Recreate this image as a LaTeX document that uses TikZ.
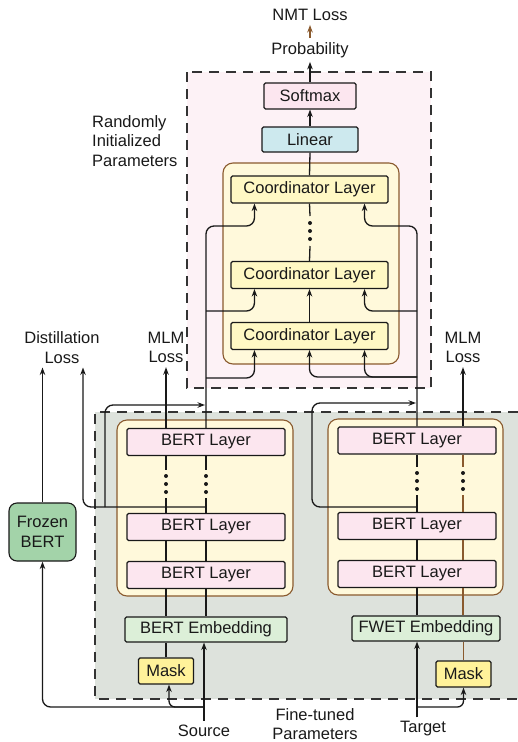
\documentclass[tikz,border=0pt]{standalone}
\usepackage{fontspec}
\setmainfont{Liberation Sans}
\usetikzlibrary{arrows.meta}
\usetikzlibrary{calc}

\begin{document}
\begin{tikzpicture}[x=1pt,y=-1pt,font=\fontsize{16.5}{19.5}\selectfont]
        \tikzset{>={Stealth[length=7.5pt,width=5.5pt]}}
        \tikzset{link/.style={line width=1.3pt,draw=black!90},
                 arr/.style={link,->},
                 brownline/.style={draw=fwetbrown},
                 regionline/.style={line width=1.3pt,draw=black!80,dash pattern=on 10pt off 7pt},
                 stackbox/.style={fill=stackcream,draw=fwetbrown,line width=1.1pt,rounded corners=10pt},
                 box/.style={draw=black!90,line width=1.1pt,rounded corners=1.5pt,inner sep=0pt,minimum height=27pt,text=black!90},
                 bertbox/.style={box,fill=bertpink,minimum width=158pt},
                 crdbox/.style={box,fill=crdyellow,minimum width=157pt},
                 embbox/.style={box,fill=embgreen,minimum height=25pt},
                 maskbox/.style={box,fill=maskyellow,minimum width=55pt,minimum height=26pt},
                 lbl/.style={align=center,inner sep=4pt,text=black!90}}

        \definecolor{pinkbg}{HTML}{FDF2F6}
        \definecolor{greybg}{HTML}{DDE2DC}
        \definecolor{stackcream}{HTML}{FFF9DB}
        \definecolor{crdyellow}{HTML}{FFF8C4}
        \definecolor{bertpink}{HTML}{FCE6EF}
        \definecolor{linblue}{HTML}{CDE9EE}
        \definecolor{embgreen}{HTML}{DCEFD8}
        \definecolor{maskyellow}{HTML}{FFF29A}
        \definecolor{frozengreen}{HTML}{A3D3A9}
        \definecolor{fwetbrown}{HTML}{8A5A2E}

        \useasboundingbox (0,0) rectangle (518,742);

        % parameter regions
        \fill[pinkbg] (187,72) rectangle (431,388);
        \draw[regionline] (187,72) rectangle (431,388);
        \fill[greybg] (95,412) rectangle (518,699);
        \draw[regionline] (518,412) -- (95,412) -- (95,699) -- (518,699);

        \draw[stackbox] (223,163) rectangle (399,364);
        \draw[stackbox] (117,420) rectangle (293,596);
        \draw[stackbox] (328,419) rectangle (503,595);

        % coordinator side
        \node[box,fill=bertpink,minimum width=92pt,minimum height=26pt] (softmax) at (310,96) {Softmax};
        \node[box,fill=linblue,minimum width=96pt,minimum height=25pt] (linear) at (310,139.5) {Linear};
        \node[crdbox] (crd3) at (309.5,189.5) {Coordinator Layer};
        \node[crdbox] (crd2) at (309.5,275) {Coordinator Layer};
        \node[crdbox] (crd1) at (309.5,336) {Coordinator Layer};

        % encoders
        \node[bertbox] (bertL3) at (206,442) {BERT Layer};
        \node[bertbox] (bertL2) at (206,527) {BERT Layer};
        \node[bertbox] (bertL1) at (206,575) {BERT Layer};
        \node[bertbox] (bertR3) at (417,440.5) {BERT Layer};
        \node[bertbox] (bertR2) at (417,526) {BERT Layer};
        \node[bertbox] (bertR1) at (417,574) {BERT Layer};
        \node[embbox,minimum width=162pt] (embL) at (206,629.5) {BERT Embedding};
        \node[embbox,minimum width=148pt] (embR) at (426,628.5) {FWET Embedding};
        \node[maskbox] (maskL) at (166,671) {Mask};
        \node[maskbox] (maskR) at (463.5,674) {Mask};
        \node[box,fill=frozengreen,minimum width=67pt,minimum height=58pt,rounded corners=8pt,align=center] (frozen) at (42.5,532) {Frozen\\BERT};

        % labels
        \node[lbl] (nmt) at (310,15) {NMT Loss};
        \node[lbl] (prob) at (310,50) {Probability};
        \node[lbl] (distill) at (62,347.5) {Distillation\\Loss};
        \node[lbl] (mlmL) at (166,347.5) {MLM\\Loss};
        \node[lbl] (mlmR) at (463,347.5) {MLM\\Loss};
        \node[lbl,anchor=west,align=left] (randinit) at (88,141) {Randomly\\Initialized\\Parameters};
        \node[lbl] (source) at (204,731) {Source};
        \node[lbl] (finetuned) at (315,724) {Fine-tuned\\Parameters};
        \node[lbl] (target) at (423,729) {Target};

        \coordinate (ltop) at (206,226);
        \coordinate (lj2) at (206,311);
        \coordinate (lj1) at (206,378);
        \coordinate (rtop) at (417,226);
        \coordinate (rj2) at (417,311);
        \coordinate (rj1) at (417,377);
        \coordinate (lout) at (206,507);
        \coordinate (lbr) at (105,507);
        \coordinate (lmerge) at (205,405);
        \coordinate (rout) at (417,507);
        \coordinate (rbr) at (312,403);
        \coordinate (rmerge) at (416,403);
        \coordinate (srcj) at (204,707);
        \coordinate (tgtj) at (417,707);
        \coordinate (cdots) at (310,231);
        \coordinate (ldotsA) at (166,484);
        \coordinate (ldotsB) at (206,484);
        \coordinate (rdotsA) at (417,481);
        \coordinate (rdotsB) at (463,481);

        % top
        \draw[arr] (softmax.north) -- (prob.south);
        \draw[arr,brownline] (prob.north) -- (nmt.south);
        \draw[arr] (linear.north) -- (softmax.south);
        \draw[link] (crd3.north) -- (linear.south);
        \draw[arr] (crd1.north) -- (crd2.south);
        \draw[link] (crd2.north) -- ($(cdots)+(0,15)$);
        \draw[link] ($(cdots)+(0,-15)$) -- (crd3.south);

        % encoder outputs into the coordinator
        \draw[arr,rounded corners=8pt] (bertL3.north) -- (ltop) -| ([xshift=24pt]crd3.south west);
        \draw[arr,rounded corners=8pt] (lj2) -| ([xshift=24pt]crd2.south west);
        \draw[arr,rounded corners=8pt] (lj1) -| ([xshift=24pt]crd1.south west);
        \draw[arr,rounded corners=8pt] (bertR3.north) -- (rtop) -| ([xshift=-24pt]crd3.south east);
        \draw[arr,rounded corners=8pt] (rj2) -| ([xshift=-24pt]crd2.south east);
        \draw[arr,rounded corners=8pt] (rj1) -| ([xshift=-24pt]crd1.south east);
        \draw[arr,rounded corners=8pt] (rj1) -| (crd1.south);

        % losses
        \draw[arr] (bertL3.north -| mlmL.south) -- (mlmL.south);
        \draw[arr] (bertR3.north -| mlmR.south) -- (mlmR.south);
        \draw[arr] (frozen.north) -- (frozen.north |- distill.south);
        \draw[arr,rounded corners=8pt] (lout) -| ([xshift=21pt]distill.south);
        \draw[arr,rounded corners=8pt] (lbr) |- (lmerge);
        \draw[arr,rounded corners=8pt] (rout) -| (rbr) -- (rmerge);

        % stack columns
        \foreach \c in {ldotsA,ldotsB} {
          \draw[link] (bertL3.south -| \c) -- ($(\c)+(0,-14)$);
          \draw[link] ($(\c)+(0,14)$) -- (bertL2.north -| \c);
          \draw[link] (bertL2.south -| \c) -- (bertL1.north -| \c);
          \draw[link] (bertL1.south -| \c) -- (embL.north -| \c);
        }
        \foreach \c/\lc in {rdotsA/black!90,rdotsB/fwetbrown} {
          \draw[link,draw=\lc] (bertR3.south -| \c) -- ($(\c)+(0,-14)$);
          \draw[link,draw=\lc] ($(\c)+(0,14)$) -- (bertR2.north -| \c);
          \draw[link,draw=\lc] (bertR2.south -| \c) -- (bertR1.north -| \c);
          \draw[link,draw=\lc] (bertR1.south -| \c) -- (embR.north -| \c);
        }
        \draw[link] (maskL.north) -- (maskL.north |- embL.south);
        \draw[link,brownline] (maskR.north) -- (maskR.north |- embR.south);
        \foreach \d in {cdots,ldotsA,ldotsB,rdotsA,rdotsB}
          \foreach \dy in {-8,0,8}
            \fill[black!90] ($(\d)+(0,\dy)$) circle (2pt);

        % inputs
        \draw[arr] (source.north) -- (source.north |- embL.south);
        \draw[arr,rounded corners=8pt] (srcj) -| (frozen.south);
        \draw[arr,rounded corners=6pt] (srcj) -| ([xshift=3pt]maskL.south);
        \draw[arr] (target.north -| tgtj) -- (tgtj |- embR.south);
        \draw[arr,rounded corners=6pt] (tgtj) -| (maskR.south);
\end{tikzpicture}
\end{document}
